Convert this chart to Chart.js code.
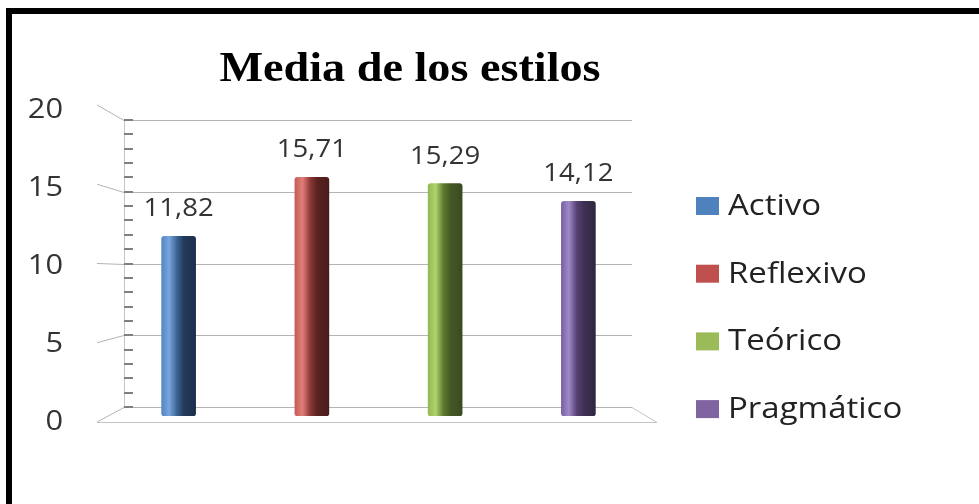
<!DOCTYPE html>
<html>
<head>
<meta charset="utf-8">
<script src="https://cdn.jsdelivr.net/npm/chart.js@4.4.1/dist/chart.umd.min.js"></script>
<style>
  html, body { margin: 0; padding: 0; background: #fff; }
  canvas { display: block; }
</style>
</head>
<body>
<canvas id="estilos_chart" width="979" height="504"></canvas>
<script>
const categories = ["Activo", "Reflexivo", "Teórico", "Pragmático"];
const medias = [11.82, 15.71, 15.29, 14.12];
const yTicks = [0, 5, 10, 15, 20];
const chartTitle = "Media de los estilos";

const legendColors = ["#4f81bd", "#c0504d", "#9bbb59", "#8064a2"];
// light edge -> highlight -> shadow side, for the cylinder look
const shades = [
  ["#5586c4", "#77a5dd", "#3c6496", "#233a5c", "#1d2f4b"],
  ["#c75c58", "#e27e7a", "#8d3835", "#5b2321", "#4a1c1b"],
  ["#94b853", "#b0d36c", "#5f7a31", "#455a26", "#3a4b20"],
  ["#7a61a3", "#a088c9", "#574273", "#3f3154", "#2f2641"],
];

const barWidth = 34;
const textStretch = 1.1;

const cylinder = (c) => {
  const i = c.dataIndex;
  const chart = c.chart;
  if (i === undefined) return legendColors[0];
  const x = chart.scales.x ? chart.scales.x.getPixelForValue(i) : NaN;
  if (!Number.isFinite(x)) return legendColors[i];
  const g = chart.ctx.createLinearGradient(x - barWidth / 2, 0, x + barWidth / 2, 0);
  const s = shades[i];
  g.addColorStop(0, s[0]);
  g.addColorStop(0.22, s[1]);
  g.addColorStop(0.45, s[2]);
  g.addColorStop(0.65, s[3]);
  g.addColorStop(1, s[4]);
  return g;
};

const stretchText = (ctx, text, x, y) => {
  ctx.save();
  ctx.translate(x, y);
  ctx.scale(textStretch, 1);
  ctx.fillText(text, 0, 0);
  ctx.restore();
};

// fake 3D walls: back wall is a bit smaller than the bar scale, front edge a bit larger
const wallPlugin = {
  id: "wall",
  beforeDraw(chart) {
    const ctx = chart.ctx;
    ctx.save();
    ctx.fillStyle = "#fff";
    ctx.fillRect(0, 0, chart.width, chart.height);
    ctx.fillStyle = "#000";
    ctx.fillRect(6, 8, chart.width - 6, 6);
    ctx.fillRect(6, 8, 6, chart.height - 8);
    ctx.restore();
  },
  beforeDatasetsDraw(chart) {
    const ctx = chart.ctx,
      y = chart.scales.y,
      y0 = y.getPixelForValue(0);
    const back = (v) => y0 - 9 + (y.getPixelForValue(v) - y0) * 0.944;
    const front = (v) => y0 + 6 + (y.getPixelForValue(v) - y0) * 1.043;
    const bx = 124, fx = 97, rbx = 632, rfx = 657;
    ctx.save();
    ctx.lineWidth = 1;
    ctx.strokeStyle = "#b4b4b4";
    yTicks.forEach((v) => {
      const by = Math.round(back(v)) + 0.5;
      ctx.beginPath();
      ctx.moveTo(fx, front(v));
      ctx.lineTo(bx, by);
      ctx.lineTo(rbx, by);
      ctx.stroke();
    });
    // floor
    ctx.strokeStyle = "#c4c4c4";
    ctx.beginPath();
    ctx.moveTo(fx, Math.round(front(0)) + 0.5);
    ctx.lineTo(rfx, Math.round(front(0)) + 0.5);
    ctx.lineTo(rbx, Math.round(back(0)) + 0.5);
    ctx.stroke();
    ctx.beginPath();
    ctx.moveTo(bx + 0.5, back(20));
    ctx.lineTo(bx + 0.5, back(0));
    ctx.stroke();
    // minor ticks
    ctx.strokeStyle = "#7f7f7f";
    ctx.lineWidth = 2;
    for (let v = 0; v <= 20; v++) {
      const by = Math.round(back(v));
      ctx.beginPath();
      ctx.moveTo(bx, by);
      ctx.lineTo(bx + 9, by);
      ctx.stroke();
    }
    // tick labels
    ctx.fillStyle = "#333";
    ctx.font = "28px 'Open Sans'";
    ctx.textAlign = "right";
    ctx.textBaseline = "alphabetic";
    yTicks.forEach((v) => {
      const ly = y0 + 14 + (y.getPixelForValue(v) - y0) * 1.026;
      stretchText(ctx, String(v), 63, ly);
    });
    ctx.restore();
  },
  afterDatasetsDraw(chart) {
    const ctx = chart.ctx;
    ctx.save();
    ctx.fillStyle = "#333";
    ctx.font = "25px 'Open Sans'";
    ctx.textAlign = "center";
    ctx.textBaseline = "alphabetic";
    chart.getDatasetMeta(0).data.forEach((bar, i) => {
      stretchText(ctx, medias[i].toFixed(2).replace(".", ","), bar.x, bar.y - 20);
    });
    ctx.restore();
  },
  afterDraw(chart) {
    const ctx = chart.ctx;
    ctx.save();
    ctx.fillStyle = "#000";
    ctx.font = "bold 42px 'Liberation Serif'";
    ctx.textAlign = "center";
    ctx.textBaseline = "alphabetic";
    stretchText(ctx, chartTitle, 410, 81);
    // legend
    ctx.textAlign = "left";
    ctx.font = "30px 'Open Sans'";
    categories.forEach((name, i) => {
      const base = 215 + i * 67.7;
      ctx.fillStyle = legendColors[i];
      ctx.fillRect(696, base - 18, 23, 18);
      ctx.fillStyle = "#222";
      stretchText(ctx, name, 728, base);
    });
    ctx.restore();
  },
};

const chart = new Chart(document.querySelector("#estilos_chart"), {
  type: "bar",
  data: {
    labels: categories,
    datasets: [
      {
        label: chartTitle,
        data: medias,
        backgroundColor: cylinder,
        barThickness: barWidth,
        borderRadius: 3,
        borderSkipped: false,
      },
    ],
  },
  options: {
    responsive: false,
    animation: false,
    layout: { padding: { left: 112, right: 334, top: 112, bottom: 88 } },
    scales: {
      x: { display: false },
      y: { display: false, min: 0, max: 20 },
    },
    plugins: {
      legend: { display: false },
      title: { display: false },
      tooltip: { enabled: false },
    },
  },
  plugins: [wallPlugin],
});
chart.update();
</script>
</body>
</html>
